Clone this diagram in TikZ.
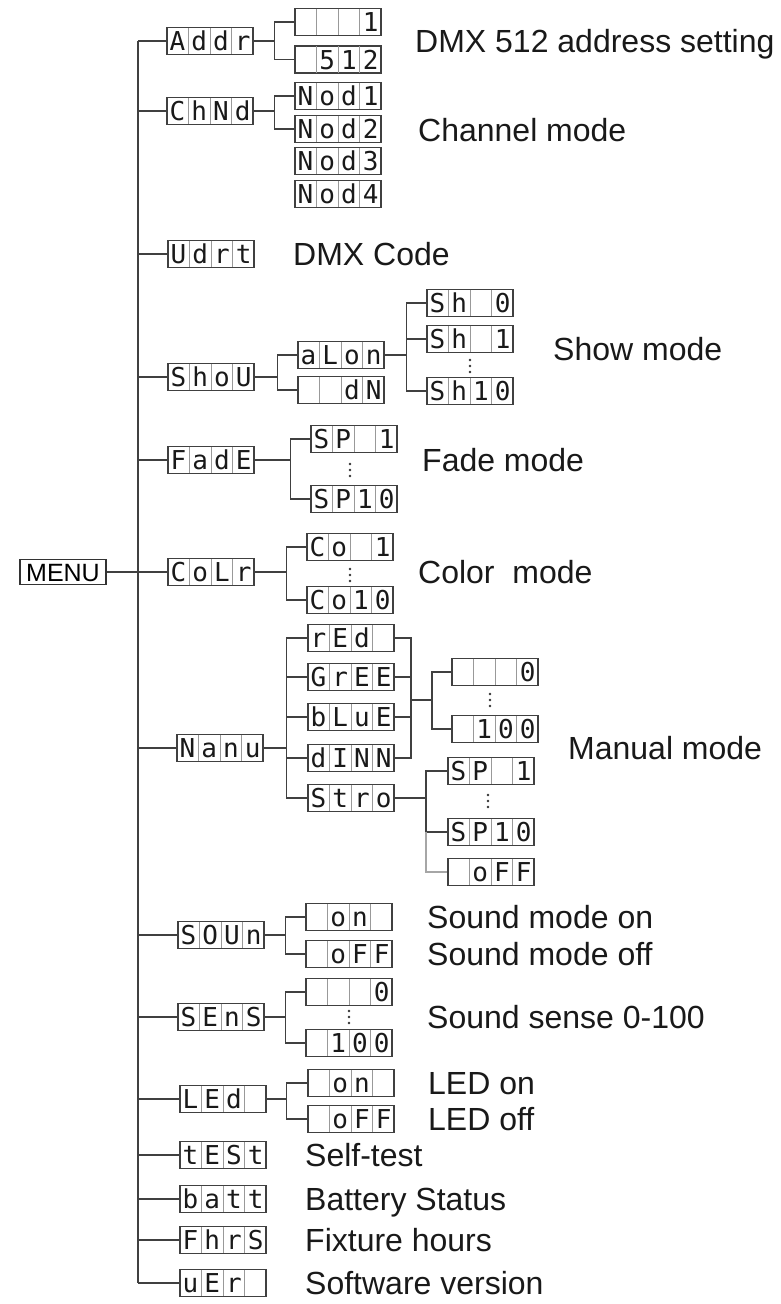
\documentclass[tikz,border=0pt]{standalone}
\usepackage{fontspec}
\setmainfont{Liberation Sans}
\newfontfamily\segfont{DejaVu Sans Mono}
\usetikzlibrary{calc}

\newcommand{\lblfont}{\fontsize{32}{37}\selectfont}
\newcommand{\dispfont}{\segfont\fontsize{26}{28}\selectfont}

% one display box with four cells: name, centre, cell 1..4
\newcommand{\disp}[6]{%
  \node[dispbox] (#1) at #2 {};
  \foreach \k in {1,2,3}
    \draw[celldiv] ($(#1.north west)!\k/4!(#1.north east)$) -- ($(#1.south west)!\k/4!(#1.south east)$);
  \node[dispchar] (#1c1) at ($(#1.west)!0.125!(#1.east)$) {#3};
  \node[dispchar] (#1c2) at ($(#1.west)!0.375!(#1.east)$) {#4};
  \node[dispchar] (#1c3) at ($(#1.west)!0.625!(#1.east)$) {#5};
  \node[dispchar] (#1c4) at ($(#1.west)!0.875!(#1.east)$) {#6};
}
% three dots between two boxes
\newcommand{\skipdots}[1]{%
  \foreach \d in {-6,0,6}
    \fill[black!80] ($#1+(0,\d)$) circle (1.4pt);
}

\begin{document}
\begin{tikzpicture}[x=1pt, y=-1pt,
  dispbox/.style={draw=black!75, line width=1.1pt, minimum width=86pt, minimum height=27pt, inner sep=0pt},
  celldiv/.style={draw=black!40, line width=0.9pt, shorten <=0.6pt, shorten >=0.6pt},
  dispchar/.style={font=\dispfont, text=black!90, inner sep=0pt, text height=19pt, text depth=0pt},
  link/.style={draw=black!75, line width=1.3pt},
  thinlink/.style={draw=black!35, line width=1.1pt},
  lbl/.style={anchor=west, font=\lblfont, text=black!90, inner sep=0pt, text height=23pt, text depth=0pt}]
\useasboundingbox (0,0) rectangle (781,1304);

% root
\node[draw=black!80, line width=1.1pt, minimum width=86pt, minimum height=25pt, inner sep=0pt,
      font=\fontsize{25}{28}\selectfont, text height=18pt, text depth=0pt] (MENU) at (63,572) {MENU};
\coordinate (trunk) at (138,572);

% first level
\disp{Addr}{(210,41)}{A}{d}{d}{r}
\disp{ChNd}{(210,111)}{C}{h}{N}{d}
\disp{Udrt}{(211,254)}{U}{d}{r}{t}
\disp{ShoU}{(211,377)}{S}{h}{o}{U}
\disp{FadE}{(211,460)}{F}{a}{d}{E}
\disp{CoLr}{(211,572)}{C}{o}{L}{r}
\disp{Manu}{(220,748)}{N}{a}{n}{u}
\disp{SOUn}{(221,935)}{S}{O}{U}{n}
\disp{SEnS}{(221,1017)}{S}{E}{n}{S}
\disp{LEd}{(223,1099)}{L}{E}{d}{}
\disp{tESt}{(223,1155)}{t}{E}{S}{t}
\disp{batt}{(223,1199)}{b}{a}{t}{t}
\disp{FhrS}{(223,1240)}{F}{h}{r}{S}
\disp{uEr}{(223,1283)}{u}{E}{r}{}

\path[link] (MENU.east) -- (trunk);
\path[link] (Addr.west -| trunk) -- (uEr.west -| trunk);
\foreach \n in {Addr,ChNd,Udrt,ShoU,FadE,CoLr,Manu,SOUn,SEnS,LEd,tESt,batt,FhrS,uEr}
  \path[link] (\n.west -| trunk) -- (\n.west);

% address
\disp{adr1}{(338,22)}{}{}{}{1}
\disp{adr512}{(338,59.5)}{}{5}{1}{2}
\coordinate (bAddr) at ([xshift=21pt]Addr.east);
\path[link] (Addr.east) -- (bAddr) |- (adr1.west);
\path[link] (bAddr) |- (adr512.west);
\node[lbl] (tAddr) at (415,41) {DMX 512 address setting};

% channel mode
\disp{nod1}{(338,96)}{N}{o}{d}{1}
\disp{nod2}{(338,129)}{N}{o}{d}{2}
\disp{nod3}{(338,161)}{N}{o}{d}{3}
\disp{nod4}{(338,194)}{N}{o}{d}{4}
\coordinate (bChNd) at ([xshift=21pt]ChNd.east);
\path[link] (ChNd.east) -- (bChNd) |- (nod1.west);
\path[link] (bChNd) |- (nod2.west);
\node[lbl] (tChNd) at (418,130) {Channel mode};

\node[lbl] (tUdrt) at (293,254) {DMX Code};

% show mode
\disp{alon}{(341,355)}{a}{L}{o}{n}
\disp{dN}{(341,390)}{}{}{d}{N}
\coordinate (bShoU) at ([xshift=23pt]ShoU.east);
\path[link] (ShoU.east) -- (bShoU) |- (alon.west);
\path[link] (bShoU) |- (dN.west);
\disp{sh0}{(470,303)}{S}{h}{}{0}
\disp{sh1}{(470,339)}{S}{h}{}{1}
\disp{sh10}{(470,391)}{S}{h}{1}{0}
\skipdots{(470,366)}
\coordinate (bAlon) at ([xshift=22pt]alon.east);
\path[link] (alon.east) -- (bAlon) |- (sh0.west);
\path[link] (bAlon) |- (sh1.west);
\path[link] (bAlon) |- (sh10.west);
\node[lbl] (tShoU) at (553,349) {Show mode};

% fade mode
\disp{fsp1}{(354,439)}{S}{P}{}{1}
\disp{fsp10}{(354,499)}{S}{P}{1}{0}
\skipdots{(350,470)}
\coordinate (bFadE) at ([xshift=36pt]FadE.east);
\path[link] (FadE.east) -- (bFadE) |- (fsp1.west);
\path[link] (bFadE) |- (fsp10.west);
\node[lbl] (tFadE) at (422,460) {Fade mode};

% color mode
\disp{co1}{(350,547)}{C}{o}{}{1}
\disp{co10}{(350,600)}{C}{o}{1}{0}
\skipdots{(350,575)}
\coordinate (bCoLr) at ([xshift=32pt]CoLr.east);
\path[link] (CoLr.east) -- (bCoLr) |- (co1.west);
\path[link] (bCoLr) |- (co10.west);
\node[lbl] (tCoLr) at (418,572) {Color\ \ mode};

% manual mode
\disp{red}{(351,638)}{r}{E}{d}{}
\disp{gree}{(351,677)}{G}{r}{E}{E}
\disp{blue}{(351,717)}{b}{L}{u}{E}
\disp{dimm}{(351,758)}{d}{I}{N}{N}
\disp{stro}{(351,798)}{S}{t}{r}{o}
\coordinate (bManu) at ([xshift=23pt]Manu.east);
\path[link] (Manu.east) -- (bManu);
\path[link] (red.west) -| (bManu) |- (stro.west);
\foreach \n in {gree,blue,dimm}
  \path[link] (bManu |- \n.west) -- (\n.west);
\coordinate (cjoin) at (411,700);
\coordinate (vjoin) at (432,700);
\path[link] (red.east) -| (cjoin) |- (dimm.east);
\foreach \n in {gree,blue}
  \path[link] (\n.east) -- (cjoin |- \n.east);
\disp{v0}{(495,672)}{}{}{}{0}
\disp{v100}{(495,729)}{}{1}{0}{0}
\skipdots{(490,700)}
\path[link] (cjoin) -- (vjoin);
\path[link] (v0.west) -| (vjoin) |- (v100.west);
\disp{ssp1}{(491,771)}{S}{P}{}{1}
\disp{ssp10}{(491,832)}{S}{P}{1}{0}
\disp{soff}{(491,872)}{}{o}{F}{F}
\skipdots{(488,801)}
\coordinate (bStro) at (426,798);
\path[link] (stro.east) -- (bStro);
\path[link] (ssp1.west) -| (bStro) |- (ssp10.west);
\path[thinlink] (ssp10.west -| bStro) |- (soff.west);
\node[lbl] (tManu) at (568,748) {Manual mode};

% sound mode
\disp{son}{(349,917)}{}{o}{n}{}
\disp{soffs}{(349,954)}{}{o}{F}{F}
\coordinate (bSOUn) at ([xshift=21pt]SOUn.east);
\path[link] (SOUn.east) -- (bSOUn) |- (son.west);
\path[link] (bSOUn) |- (soffs.west);
\node[lbl] (tSon) at (427,917) {Sound mode on};
\node[lbl] (tSoff) at (427,954) {Sound mode off};

% sound sense
\disp{se0}{(349,992)}{}{}{}{0}
\disp{se100}{(349,1043)}{}{1}{0}{0}
\skipdots{(349,1017)}
\coordinate (bSEnS) at ([xshift=21pt]SEnS.east);
\path[link] (SEnS.east) -- (bSEnS) |- (se0.west);
\path[link] (bSEnS) |- (se100.west);
\node[lbl] (tSEnS) at (427,1017) {Sound sense 0-100};

% LED
\disp{lon}{(351,1083)}{}{o}{n}{}
\disp{loff}{(351,1119)}{}{o}{F}{F}
\coordinate (bLEd) at ([xshift=20pt]LEd.east);
\path[link] (LEd.east) -- (bLEd) |- (lon.west);
\path[link] (bLEd) |- (loff.west);
\node[lbl] (tLon) at (428,1083) {LED on};
\node[lbl] (tLoff) at (428,1119) {LED off};

% single items
\node[lbl] (ttESt) at (305,1155) {Self-test};
\node[lbl] (tbatt) at (305,1199) {Battery Status};
\node[lbl] (tFhrS) at (305,1240) {Fixture hours};
\node[lbl] (tuEr) at (305,1283) {Software version};
\end{tikzpicture}
\end{document}
